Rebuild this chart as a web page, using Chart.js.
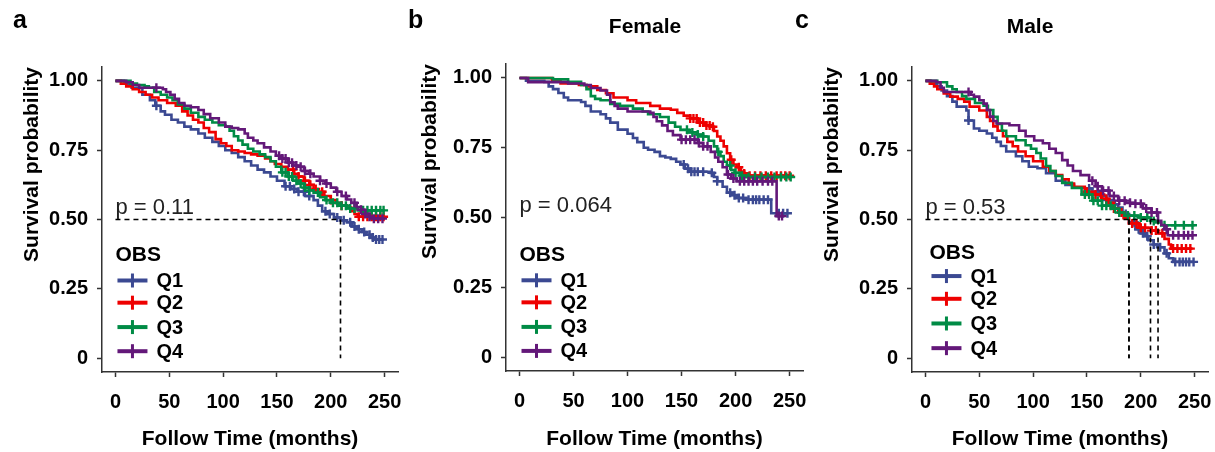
<!DOCTYPE html>
<html>
<head>
<meta charset="utf-8">
<script src="https://cdn.jsdelivr.net/npm/chart.js@4.4.1/dist/chart.umd.min.js"></script>
<style>
  body { margin: 0; background: #fff; }
  #wrap { position: relative; width: 1215px; height: 452px; font-family: "Liberation Sans", Arial, sans-serif; color: #000; }
  .panel { position: absolute; top: 0; width: 405px; height: 452px; }
  .tag { position: absolute; top: 7px; font-weight: bold; font-size: 25px; line-height: 25px; }
  .head { position: absolute; top: 15px; width: 200px; text-align: center; font-weight: bold; font-size: 21px; line-height: 21px; }
</style>
</head>
<body>
<div id="wrap">
  <div class="panel" style="left:0"><canvas id="chartA" width="405" height="452"></canvas></div>
  <div class="panel" style="left:405px"><canvas id="chartB" width="405" height="452"></canvas></div>
  <div class="panel" style="left:810px"><canvas id="chartC" width="405" height="452"></canvas></div>
  <div class="tag" style="left:13px">a</div>
  <div class="tag" style="left:408px">b</div>
  <div class="tag" style="left:795px">c</div>
  <div class="head" style="left:545px">Female</div>
  <div class="head" style="left:930px">Male</div>
</div>
<script>
const groups = ['Q1', 'Q2', 'Q3', 'Q4'];
const colors = ['#3B4992', '#EE0000', '#008B45', '#631879'];
const xTicks = [0, 50, 100, 150, 200, 250];
const yTicks = [0, 0.25, 0.5, 0.75, 1];
const yTickLabels = ['0', '0.25', '0.50', '0.75', '1.00'];

// panel a (all) : [months, survival]
const aQ1 = [[0,1],[8,0.99],[15,0.975],[25,0.95],[32,0.93],[37,0.91],[42,0.89],[46,0.878],[52,0.86],[58,0.85],[64,0.835],[70,0.825],[77,0.81],[83,0.795],[90,0.78],[96,0.765],[102,0.75],[108,0.74],[114,0.725],[120,0.71],[126,0.695],[132,0.68],[138,0.67],[144,0.655],[150,0.64],[157,0.62],[163,0.61],[169,0.6],[176,0.585],[184,0.57],[188,0.55],[192,0.53],[197,0.52],[203,0.507],[209,0.497],[215,0.49],[220,0.475],[225,0.465],[229,0.455],[233,0.445],[237,0.435],[240,0.428],[248,0.428]];
const aQ2 = [[0,1],[5,0.99],[10,0.98],[16,0.97],[22,0.96],[28,0.95],[34,0.94],[40,0.93],[48,0.92],[56,0.91],[62,0.89],[67,0.875],[72,0.86],[77,0.85],[82,0.83],[87,0.815],[93,0.79],[98,0.775],[103,0.765],[108,0.75],[114,0.745],[120,0.74],[126,0.735],[132,0.73],[139,0.72],[144,0.71],[148,0.7],[154,0.69],[160,0.68],[166,0.665],[170,0.655],[175,0.64],[180,0.625],[184,0.61],[188,0.6],[194,0.585],[200,0.57],[205,0.56],[210,0.55],[215,0.543],[219,0.53],[222,0.52],[225,0.51],[250,0.51]];
const aQ3 = [[0,1],[14,0.99],[20,0.985],[27,0.98],[31,0.975],[36,0.96],[42,0.95],[48,0.94],[53,0.93],[58,0.915],[64,0.9],[70,0.885],[77,0.87],[83,0.86],[90,0.85],[96,0.84],[102,0.835],[106,0.82],[110,0.8],[114,0.785],[118,0.77],[123,0.755],[128,0.745],[134,0.735],[139,0.725],[144,0.71],[149,0.69],[154,0.67],[160,0.655],[165,0.64],[169,0.63],[175,0.615],[180,0.605],[184,0.597],[190,0.58],[195,0.57],[200,0.56],[207,0.55],[215,0.54],[225,0.533],[250,0.533]];
const aQ4 = [[0,1],[10,0.995],[16,0.985],[22,0.975],[44,0.97],[47,0.96],[51,0.95],[55,0.935],[59,0.92],[64,0.91],[70,0.905],[77,0.895],[82,0.88],[88,0.865],[96,0.85],[102,0.835],[108,0.83],[114,0.825],[120,0.81],[123,0.795],[128,0.785],[132,0.775],[138,0.76],[144,0.745],[149,0.73],[154,0.72],[160,0.705],[165,0.695],[169,0.69],[175,0.675],[180,0.665],[184,0.655],[190,0.64],[195,0.63],[200,0.615],[205,0.6],[210,0.585],[215,0.572],[219,0.56],[224,0.545],[228,0.535],[232,0.52],[236,0.51],[240,0.503],[250,0.503]];
const aQ1Cens = [38,158,162,166,170,175,180,195,199,206,212,218,222,226,231,236,239,242,245,248];
const aQ2Cens = [165,170,176,181,186,192,200,210,226,230,234,238,242,246,249];
const aQ3Cens = [155,158,161,164,168,172,176,180,188,196,202,206,210,214,218,222,230,234,238,242,246,249];
const aQ4Cens = [38,152,155,158,161,164,168,172,176,181,190,196,206,214,222,228,232,236,240,244,248];
const aMedians = [209];

// panel b (female)
const bQ1 = [[0,1],[6,0.99],[23,0.986],[27,0.97],[31,0.96],[36,0.946],[41,0.93],[45,0.92],[57,0.914],[61,0.9],[66,0.88],[75,0.87],[80,0.855],[84,0.84],[91,0.815],[100,0.8],[105,0.785],[109,0.77],[115,0.75],[119,0.743],[125,0.735],[130,0.72],[135,0.715],[140,0.71],[145,0.7],[149,0.69],[153,0.675],[158,0.664],[177,0.66],[180,0.645],[183,0.63],[188,0.61],[192,0.589],[197,0.58],[201,0.57],[210,0.564],[233,0.515],[248,0.515]];
const bQ2 = [[0,1],[30,0.99],[38,0.98],[55,0.975],[62,0.97],[72,0.957],[80,0.945],[87,0.93],[100,0.92],[108,0.91],[121,0.9],[130,0.89],[140,0.886],[146,0.875],[152,0.865],[158,0.855],[165,0.84],[172,0.83],[177,0.825],[180,0.81],[183,0.79],[186,0.775],[189,0.755],[192,0.73],[195,0.707],[198,0.69],[201,0.68],[205,0.665],[208,0.658],[212,0.65],[250,0.65]];
const bQ3 = [[0,1],[31,0.995],[45,0.986],[57,0.975],[62,0.96],[66,0.935],[70,0.925],[75,0.92],[84,0.907],[93,0.9],[105,0.89],[114,0.88],[119,0.87],[130,0.86],[138,0.84],[144,0.825],[149,0.814],[157,0.805],[165,0.797],[170,0.79],[175,0.775],[180,0.755],[183,0.735],[186,0.72],[189,0.7],[192,0.686],[196,0.67],[199,0.66],[204,0.65],[210,0.645],[251,0.645]];
const bQ4 = [[0,1],[8,0.985],[45,0.98],[60,0.975],[66,0.964],[75,0.955],[81,0.94],[84,0.913],[88,0.9],[91,0.89],[100,0.88],[121,0.875],[124,0.86],[127,0.845],[132,0.83],[137,0.81],[142,0.795],[149,0.779],[165,0.767],[170,0.755],[177,0.735],[181,0.715],[184,0.7],[188,0.68],[192,0.654],[196,0.64],[201,0.63],[238,0.505],[243,0.505]];
const bQ1Cens = [152,156,159,162,165,170,178,183,195,199,203,207,212,216,219,222,226,230,240,244,248];
const bQ2Cens = [158,161,164,167,170,173,176,179,196,203,208,213,218,223,228,233,238,242,246,250];
const bQ3Cens = [155,160,165,170,184,195,200,206,212,218,224,230,236,242,247,251];
const bQ4Cens = [150,154,158,162,166,170,174,193,198,204,208,212,216,220,225,230,234,240,243];
const bMedians = [];

// panel c (male)
const cQ1 = [[0,1],[5,0.99],[11,0.98],[15,0.965],[20,0.945],[25,0.925],[29,0.907],[38,0.893],[40,0.857],[45,0.828],[50,0.82],[57,0.81],[62,0.795],[66,0.78],[70,0.765],[75,0.745],[84,0.728],[90,0.71],[96,0.69],[104,0.685],[112,0.667],[121,0.64],[130,0.625],[138,0.615],[148,0.612],[155,0.6],[162,0.585],[168,0.57],[174,0.555],[179,0.543],[183,0.52],[189,0.49],[195,0.465],[200,0.45],[204,0.44],[207,0.425],[212,0.41],[216,0.4],[222,0.378],[226,0.36],[230,0.347],[249,0.347]];
const cQ2 = [[0,1],[4,0.99],[8,0.98],[11,0.97],[17,0.955],[23,0.943],[30,0.935],[36,0.925],[41,0.907],[50,0.893],[57,0.87],[60,0.855],[63,0.836],[67,0.82],[72,0.8],[76,0.78],[81,0.764],[86,0.745],[93,0.728],[100,0.71],[109,0.69],[115,0.675],[121,0.66],[127,0.645],[133,0.63],[138,0.618],[148,0.6],[156,0.59],[164,0.575],[170,0.56],[175,0.54],[179,0.525],[184,0.505],[189,0.486],[198,0.47],[210,0.46],[216,0.45],[222,0.43],[226,0.41],[228,0.395],[248,0.395]];
const cQ3 = [[0,1],[11,0.995],[20,0.98],[25,0.97],[29,0.96],[34,0.945],[38,0.935],[46,0.92],[54,0.91],[58,0.895],[63,0.87],[67,0.845],[71,0.82],[75,0.8],[84,0.786],[93,0.768],[98,0.755],[103,0.74],[107,0.72],[112,0.693],[116,0.675],[121,0.657],[127,0.632],[136,0.614],[145,0.59],[155,0.568],[164,0.55],[173,0.539],[180,0.525],[185,0.514],[198,0.507],[209,0.495],[214,0.489],[219,0.479],[250,0.479]];
const cQ4 = [[0,1],[10,0.995],[14,0.975],[17,0.96],[42,0.95],[45,0.943],[50,0.93],[54,0.918],[57,0.895],[60,0.871],[63,0.855],[66,0.846],[78,0.84],[87,0.82],[93,0.8],[101,0.785],[109,0.775],[115,0.755],[121,0.74],[127,0.714],[132,0.695],[137,0.675],[144,0.66],[152,0.64],[158,0.62],[164,0.604],[171,0.585],[179,0.568],[186,0.56],[194,0.557],[202,0.54],[210,0.525],[216,0.495],[219,0.48],[222,0.465],[225,0.443],[249,0.443]];
const cQ1Cens = [40,152,160,168,176,186,194,198,202,206,212,218,224,232,236,239,242,245,249];
const cQ2Cens = [150,158,163,168,175,182,192,196,200,204,210,214,220,230,234,238,242,246];
const cQ3Cens = [148,152,156,160,164,168,172,176,180,188,194,200,206,212,222,232,240,248];
const cQ4Cens = [40,155,160,165,170,175,180,185,190,195,200,205,210,215,224,230,235,240,244,248];
const cMedians = [189, 189, 209, 216];

const FONT = '"Liberation Sans", Arial, sans-serif';
Chart.defaults.font.family = FONT;
Chart.defaults.color = '#000';

function survAt(curve, t) {
  let s = curve[0][1];
  for (const [tt, ss] of curve) {
    if (tt <= t) s = ss; else break;
  }
  return s;
}

// p-value + OBS legend drawn inside the plot
const kmText = {
  id: 'kmText',
  afterDatasetsDraw(chart, args, o) {
    const { ctx, scales: { x, y } } = chart;
    ctx.save();
    ctx.fillStyle = '#222';
    ctx.textAlign = 'left';
    ctx.textBaseline = 'alphabetic';
    ctx.font = '22px ' + FONT;
    ctx.fillText(o.pText, x.getPixelForValue(0), y.getPixelForValue(o.pY));

    const x0 = x.getPixelForValue(0) + o.dx;
    ctx.fillStyle = '#000';
    ctx.textBaseline = 'middle';
    ctx.font = 'bold 21px ' + FONT;
    ctx.fillText('OBS', x0, y.getPixelForValue(o.rows[0]));
    ctx.font = 'bold 20px ' + FONT;
    groups.forEach((g, i) => {
      const yy = y.getPixelForValue(o.rows[i + 1]);
      ctx.strokeStyle = colors[i];
      ctx.lineWidth = 4;
      ctx.beginPath(); ctx.moveTo(x0 + 2, yy); ctx.lineTo(x0 + 32, yy); ctx.stroke();
      ctx.lineWidth = 3;
      ctx.beginPath(); ctx.moveTo(x0 + 17, yy - 7); ctx.lineTo(x0 + 17, yy + 7); ctx.stroke();
      ctx.fillStyle = '#000';
      ctx.fillText(g, x0 + 41, yy + 1);
    });
    ctx.restore();
  }
};

function makeChart(id, p) {
  const datasets = [];
  p.curves.forEach((curve, i) => {
    datasets.push({
      label: groups[i],
      data: curve.map(d => ({ x: d[0], y: d[1] })),
      borderColor: colors[i],
      borderWidth: 2.6,
      stepped: 'before',
      pointRadius: 0,
      fill: false,
      order: 10 - i
    });
    datasets.push({
      label: groups[i] + ' censored',
      data: p.cens[i].map(t => ({ x: t, y: survAt(curve, t) })),
      showLine: false,
      pointStyle: 'cross',
      pointRadius: 4.5,
      pointBorderWidth: 2.4,
      borderColor: colors[i],
      backgroundColor: colors[i],
      order: 10 - i
    });
  });
  if (p.medians.length) {
    const dash = { borderColor: '#000', borderWidth: 1.6, borderDash: [5, 4], pointRadius: 0, fill: false, order: 0 };
    datasets.push(Object.assign({ label: 'median', data: [{ x: 0, y: 0.5 }, { x: Math.max(...p.medians), y: 0.5 }] }, dash));
    p.medians.forEach(m => {
      datasets.push(Object.assign({ label: 'median', data: [{ x: m, y: 0.5 }, { x: m, y: 0 }] }, dash));
    });
  }

  return new Chart(document.getElementById(id), {
    type: 'line',
    data: { datasets },
    options: {
      responsive: false,
      animation: false,
      devicePixelRatio: 1,
      events: [],
      layout: { padding: { left: 0, top: p.area.top, right: 405 - p.area.right, bottom: 0 } },
      plugins: {
        legend: { display: false },
        tooltip: { enabled: false },
        kmText: { pText: p.pText, pY: 0.52, dx: p.legendDx, rows: p.legendRows }
      },
      scales: {
        x: {
          type: 'linear',
          min: -12.5,
          max: 262.5,
          afterBuildTicks: s => { s.ticks = xTicks.map(v => ({ value: v })); },
          afterFit: s => { s.height = 452 - p.area.bottom; s.paddingLeft = 0; s.paddingRight = 0; },
          ticks: { color: '#000', font: { size: 20, weight: 'bold' }, padding: 13, maxRotation: 0, autoSkip: false },
          grid: { drawOnChartArea: false, drawTicks: true, tickLength: 5, tickColor: '#333', tickWidth: 1.5 },
          border: { display: true, color: '#333', width: 1.5 },
          title: { display: true, text: 'Follow Time (months)', color: '#000', font: { size: 21, weight: 'bold' }, padding: { top: 0, bottom: 0 } }
        },
        y: {
          type: 'linear',
          min: -0.05,
          max: 1.05,
          afterBuildTicks: s => { s.ticks = yTicks.map(v => ({ value: v })); },
          afterFit: s => { s.width = p.area.left; s.paddingTop = 0; s.paddingBottom = 0; },
          ticks: {
            color: '#000', font: { size: 20, weight: 'bold' }, padding: 9, autoSkip: false,
            callback: v => yTickLabels[yTicks.indexOf(v)]
          },
          grid: { drawOnChartArea: false, drawTicks: true, tickLength: 5, tickColor: '#333', tickWidth: 1.5 },
          border: { display: true, color: '#333', width: 1.5 },
          title: { display: true, text: 'Survival probability', align: 'end', color: '#000', font: { size: 21, weight: 'bold' }, padding: { top: p.yTitlePad, bottom: 0 } }
        }
      }
    },
    plugins: [kmText]
  });
}

makeChart('chartA', {
  curves: [aQ1, aQ2, aQ3, aQ4], cens: [aQ1Cens, aQ2Cens, aQ3Cens, aQ4Cens], medians: aMedians,
  pText: 'p = 0.11', area: { left: 102, right: 400, top: 67, bottom: 372 }, yTitlePad: 20,
  legendDx: 0, legendRows: [0.37, 0.28, 0.2, 0.112, 0.025]
});
makeChart('chartB', {
  curves: [bQ1, bQ2, bQ3, bQ4], cens: [bQ1Cens, bQ2Cens, bQ3Cens, bQ4Cens], medians: bMedians,
  pText: 'p = 0.064', area: { left: 101, right: 402, top: 64, bottom: 371 }, yTitlePad: 13,
  legendDx: 0, legendRows: [0.364, 0.275, 0.196, 0.108, 0.022]
});
makeChart('chartC', {
  curves: [cQ1, cQ2, cQ3, cQ4], cens: [cQ1Cens, cQ2Cens, cQ3Cens, cQ4Cens], medians: cMedians,
  pText: 'p = 0.53', area: { left: 102, right: 401, top: 67, bottom: 372 }, yTitlePad: 10,
  legendDx: 4, legendRows: [0.38, 0.296, 0.214, 0.125, 0.036]
});
</script>
</body>
</html>
